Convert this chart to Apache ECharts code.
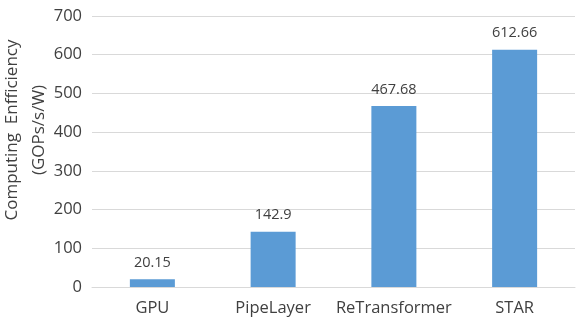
<!DOCTYPE html>
<html><head><meta charset="utf-8">
<script src="https://cdn.jsdelivr.net/npm/echarts@6/dist/echarts.min.js"></script>
<style>html,body{margin:0;padding:0;background:#fff}#c{width:588px;height:325px}</style>
</head><body><div id="c"></div>
<script>
const categories = ['GPU', 'PipeLayer', 'ReTransformer', 'STAR'];
const values = [20.15, 142.9, 467.68, 612.66];
const yTicks = { min: 0, max: 700, interval: 100 };
const yName = 'Computing  Enfficiency\n(GOPs/s/W)';

const chart = echarts.init(document.getElementById('c'));
const font = 'Open Sans';
chart.setOption({
  animation: false,
  grid: { left: 92, right: 13, top: 16, bottom: 38, containLabel: false, outerBoundsMode: 'none' },
  graphic: [{
    type: 'text', x: 26, y: 130, rotation: Math.PI / 2,
    style: {
      text: yName, fill: '#404040', fontSize: 17, fontFamily: font, lineHeight: 27,
      align: 'center', verticalAlign: 'middle'
    }
  }],
  xAxis: {
    type: 'category', data: categories,
    axisLine: { lineStyle: { color: '#d9d9d9' } },
    axisTick: { show: false },
    axisLabel: { interval: 0, color: '#404040', fontSize: 16.5, fontFamily: font, margin: 13 }
  },
  yAxis: {
    type: 'value', min: yTicks.min, max: yTicks.max, interval: yTicks.interval,
    axisLine: { show: false }, axisTick: { show: false },
    axisLabel: { color: '#404040', fontSize: 16.5, fontFamily: font, margin: 10 },
    splitLine: { lineStyle: { color: '#d9d9d9' } }
  },
  series: [{
    type: 'bar', data: values, barWidth: 45,
    itemStyle: { color: '#5b9bd5' },
    label: { show: true, position: 'top', distance: 9, color: '#404040', fontSize: 14.5, fontFamily: font }
  }]
});
</script></body></html>
